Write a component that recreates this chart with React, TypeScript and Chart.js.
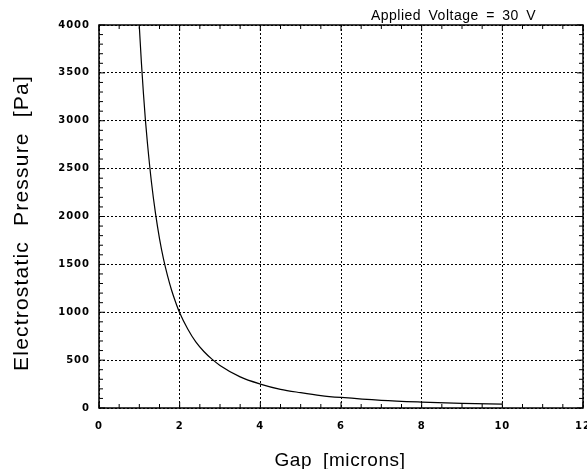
import React, { useEffect, useRef } from "react";
import { Chart, registerables } from "chart.js";

Chart.register(...registerables);

const gapMicrons = [1.0, 1.05, 1.1, 1.15, 1.2, 1.3, 1.4, 1.5, 1.6, 1.7, 1.8, 1.9, 2.0, 2.2, 2.4, 2.6, 2.8, 3.0, 3.5, 4.0, 4.5, 5.0, 5.5, 6.0, 7.0, 8.0, 9.0, 10.0];
const pressurePa = [3985, 3615, 3295, 3010, 2770, 2360, 2035, 1770, 1555, 1380, 1230, 1105, 995, 825, 690, 590, 510, 445, 325, 250, 195, 160, 130, 110, 80, 62, 49, 40];
const xTickValues = [0, 2, 4, 6, 8, 10, 12];
const yTickValues = [0, 500, 1000, 1500, 2000, 2500, 3000, 3500, 4000];
const titleText = "Applied Voltage = 30 V";
const xTitle = "Gap [microns]";
const yTitle = "Electrostatic Pressure [Pa]";

const FONT = "'Liberation Sans', Arial, sans-serif";

const framePlugin = {
  id: "frame",
  beforeDraw(chart: any) {
    const ctx = chart.ctx as any;
    ctx.letterSpacing = "1px";
  },
  afterDraw(chart: any) {
    const { chartArea: a, scales } = chart;
    const ctx = chart.ctx as any;
    const xs = scales.x;
    const ys = scales.y;
    ctx.save();
    ctx.strokeStyle = "#000";
    ctx.lineWidth = 1.5;
    ctx.strokeRect(a.left, a.top, a.right - a.left, a.bottom - a.top);
    ctx.lineWidth = 1;
    ctx.beginPath();
    for (let v = 0; v <= 12.0001; v += 0.5) {
      const px = xs.getPixelForValue(v);
      const len = Math.abs(v - Math.round(v / 2) * 2) < 1e-6 ? 6 : 4;
      ctx.moveTo(px, a.bottom);
      ctx.lineTo(px, a.bottom - len);
      ctx.moveTo(px, a.top);
      ctx.lineTo(px, a.top + len);
    }
    for (let v = 0; v <= 4000.001; v += 100) {
      const py = ys.getPixelForValue(v);
      const len = v % 500 === 0 ? 6 : 4;
      ctx.moveTo(a.left, py);
      ctx.lineTo(a.left + len, py);
      ctx.moveTo(a.right, py);
      ctx.lineTo(a.right - len, py);
    }
    ctx.stroke();
    ctx.fillStyle = "#000";

    // title (top right)
    ctx.font = `14px ${FONT}`;
    ctx.letterSpacing = "0.5px";
    ctx.wordSpacing = "3px";
    ctx.textAlign = "right";
    ctx.textBaseline = "alphabetic";
    ctx.fillText(titleText, 536, 19.5);

    // x axis title
    ctx.font = `19px ${FONT}`;
    ctx.letterSpacing = "0.6px";
    ctx.wordSpacing = "5px";
    ctx.textAlign = "center";
    ctx.fillText(xTitle, 340, 466);

    // y axis title
    ctx.save();
    ctx.translate(28, 223);
    ctx.rotate(-Math.PI / 2);
    ctx.font = `21px ${FONT}`;
    ctx.letterSpacing = "1.2px";
    ctx.wordSpacing = "8px";
    ctx.textAlign = "center";
    ctx.fillText(yTitle, 0, 0);
    ctx.restore();

    ctx.restore();
    ctx.letterSpacing = "0px";
    ctx.wordSpacing = "0px";
  },
};

export default function App() {
  const ref = useRef<HTMLCanvasElement>(null);
  useEffect(() => {
    if (!ref.current) return;
    const tickFont = { family: "'DejaVu Sans', sans-serif", size: 10, weight: "bold" };
    const chart = new Chart(ref.current, {
      type: "scatter",
      data: {
        datasets: [
          {
            data: gapMicrons.map((g, i) => ({ x: g, y: pressurePa[i] })),
            showLine: true,
            borderColor: "#000",
            borderWidth: 1.2,
            pointRadius: 0,
            tension: 0.3,
            cubicInterpolationMode: "monotone",
          },
        ],
      },
      options: {
        responsive: false,
        animation: false,
        layout: { padding: { top: 25, right: 4, bottom: 0, left: 0 } },
        plugins: { legend: { display: false }, tooltip: { enabled: false }, title: { display: false } },
        scales: {
          x: {
            type: "linear",
            min: 0,
            max: 12,
            afterBuildTicks: (s: any) => {
              s.ticks = xTickValues.map((v) => ({ value: v }));
            },
            afterFit: (s: any) => {
              s.height = 61;
              s.paddingLeft = 0;
              s.paddingRight = 0;
            },
            grid: { color: "#000", lineWidth: 1, drawTicks: false },
            border: { display: false, dash: [2, 2] },
            ticks: {
              padding: 12,
              color: "#000",
              font: tickFont,
              maxRotation: 0,
              callback: (v: any) => String(v),
            },
            title: { display: false },
          },
          y: {
            type: "linear",
            min: 0,
            max: 4000,
            afterBuildTicks: (s: any) => {
              s.ticks = yTickValues.map((v) => ({ value: v }));
            },
            afterFit: (s: any) => {
              s.width = 99;
              s.paddingTop = 0;
              s.paddingBottom = 0;
            },
            grid: { color: "#000", lineWidth: 1, drawTicks: false },
            border: { display: false, dash: [2, 2] },
            ticks: {
              padding: 9,
              color: "#000",
              font: tickFont,
              callback: (v: any) => String(v),
            },
            title: { display: false },
          },
        },
      } as any,
      plugins: [framePlugin],
    });
    return () => chart.destroy();
  }, []);
  return (
    <div style={{ position: "absolute", left: 0, top: 0, width: 587, height: 469, background: "#fff" }}>
      <canvas ref={ref} width={587} height={469} aria-label={`${titleText}; ${xTitle}; ${yTitle}`} />
    </div>
  );
}
